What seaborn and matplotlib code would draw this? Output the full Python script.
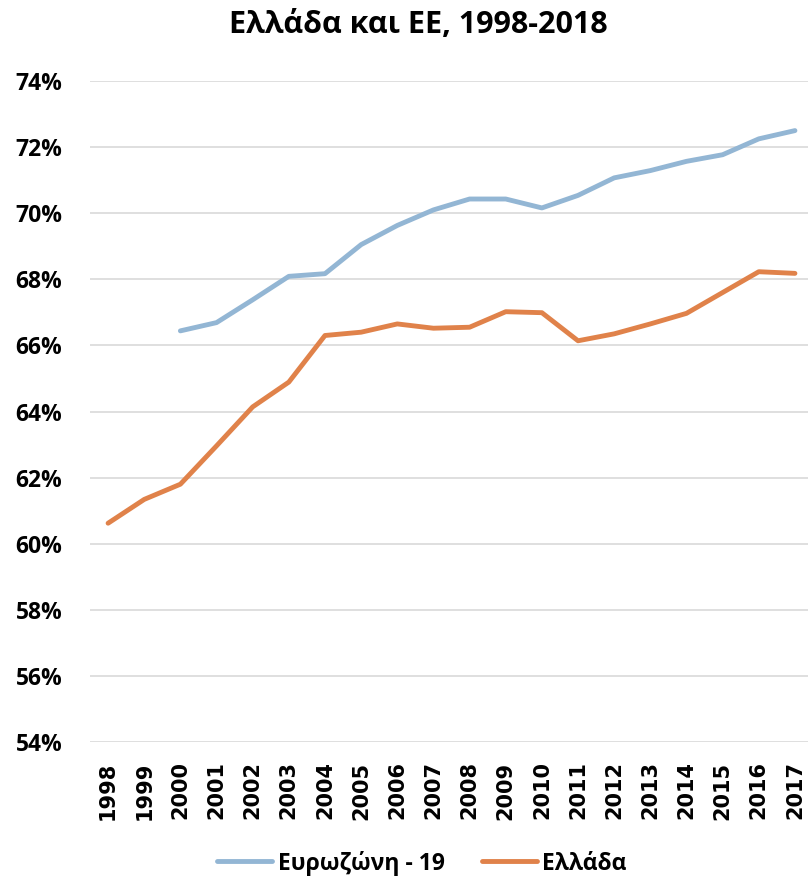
import seaborn as sns
import numpy as np
import pandas as pd
import matplotlib
matplotlib.use("Agg")
import matplotlib.pyplot as plt
from matplotlib.ticker import FuncFormatter

# values (percent)
years = list(range(1998, 2018))
eurozone = [np.nan, np.nan, 66.44, 66.69, 67.38, 68.09, 68.17, 69.05, 69.63, 70.10,
            70.43, 70.43, 70.16, 70.54, 71.07, 71.29, 71.57, 71.77, 72.25, 72.50]
greece = [60.62, 61.34, 61.80, 62.96, 64.14, 64.89, 66.30, 66.40, 66.65, 66.52,
          66.55, 67.02, 66.99, 66.14, 66.35, 66.65, 66.97, 67.60, 68.23, 68.18]
series_names = ["Ευρωζώνη - 19", "Ελλάδα"]
colors = ["#93B6D4", "#E0824A"]
title = "Ελλάδα και ΕΕ, 1998-2018"

df = pd.DataFrame({
    "year": years * 2,
    "value": eurozone + greece,
    "series": [series_names[0]] * len(years) + [series_names[1]] * len(years),
}).dropna()

sns.set_style("white")
plt.rcParams["font.family"] = ["Open Sans", "DejaVu Sans"]
plt.rcParams["font.weight"] = "bold"
plt.rcParams["text.color"] = "black"
plt.rcParams["xtick.color"] = "black"
plt.rcParams["ytick.color"] = "black"

fig = plt.figure(figsize=(8.08, 8.76), dpi=100)
ax = fig.add_axes([0.1114, 0.153, 0.8948, 0.7545])

sns.lineplot(data=df, x="year", y="value", hue="series", hue_order=series_names,
             palette=colors, linewidth=3.5, ax=ax, legend=True)
for line in ax.lines:
    line.set_solid_capstyle("round")

ax.set_xlim(1997.5, 2017.5)
ax.set_ylim(54, 74)
ax.set_yticks(np.arange(54, 75, 2))
ax.yaxis.set_major_formatter(FuncFormatter(lambda v, p: f"{v:.0f}%"))
ax.set_xticks(years)
ax.set_xticklabels([str(y) for y in years], rotation=90, fontsize=15,
                   fontweight="bold", family=["DejaVu Sans"])
ax.tick_params(axis="x", length=0, pad=14, labelcolor="black")
ax.tick_params(axis="y", length=0, pad=20, labelsize=16.5, labelcolor="black")
for lab in ax.get_yticklabels():
    lab.set_fontweight("bold")

ax.grid(axis="y", color="#D9D9D9", linewidth=1.2)
ax.set_axisbelow(True)
for s in ax.spines.values():
    s.set_visible(False)
ax.set_xlabel("")
ax.set_ylabel("")

handles, labels = ax.get_legend_handles_labels()
leg = ax.legend(handles, labels, loc="center", bbox_to_anchor=(422 / 808, 1 - 863 / 876),
                bbox_transform=fig.transFigure, ncol=2, frameon=False,
                prop={"size": 16.5, "weight": "bold"}, handlelength=2.4,
                handletextpad=0.25, columnspacing=1.6)
for t in leg.get_texts():
    t.set_color("black")

fig.text(418 / 808, 1 - 25 / 876, title, ha="center", va="center",
         fontsize=22, fontweight="bold", color="black")

fig.savefig("out.png", dpi=100)
